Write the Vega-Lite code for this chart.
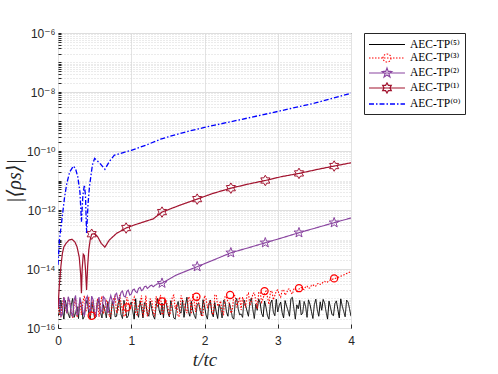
{
"$schema": "https://vega.github.io/schema/vega-lite/v6.json",
"width": 293, "height": 295,
"autosize": "none",
"padding": {"left": 58, "top": 33, "right": 147, "bottom": 46},
"background": "white",
"config": {
  "view": {"stroke": "#262626", "strokeWidth": 1},
  "axis": {"labelFont": "Liberation Sans, DejaVu Sans", "labelFontSize": 12, "labelColor": "#262626", "domain": false, "tickColor": "#262626", "titleColor": "#262626", "titleFontWeight": "normal"},
  "legend": {"orient": "none", "legendX": 306, "legendY": 0, "strokeColor": "#262626", "fillColor": "white", "padding": 4, "labelFont": "Liberation Serif, DejaVu Serif", "labelFontSize": 11.5, "labelColor": "#000", "symbolSize": 196, "symbolStrokeWidth": 1.2, "rowPadding": 0, "labelOffset": 26, "labelLimit": 200}
},
"datasets": {
"lines": [
{"s":"TP5","t":0,"v":2.5e-16},{"s":"TP5","t":0.04,"v":7.9e-16},{"s":"TP5","t":0.08,"v":2.0e-16},{"s":"TP5","t":0.12,"v":5.0e-16},{"s":"TP5","t":0.16,"v":2.2e-16},{"s":"TP5","t":0.2,"v":1.0e-15},{"s":"TP5","t":0.24,"v":3.2e-16},{"s":"TP5","t":0.28,"v":2.1e-16},{"s":"TP5","t":0.32,"v":6.3e-16},{"s":"TP5","t":0.36,"v":2.5e-16},
{"s":"TP5","t":0.4,"v":8.9e-16},{"s":"TP5","t":0.44,"v":2.0e-16},{"s":"TP5","t":0.48,"v":4.5e-16},{"s":"TP5","t":0.52,"v":2.4e-16},{"s":"TP5","t":0.56,"v":7.1e-16},{"s":"TP5","t":0.6,"v":2.2e-16},{"s":"TP5","t":0.64,"v":4.0e-16},{"s":"TP5","t":0.68,"v":7.9e-16},{"s":"TP5","t":0.72,"v":2.0e-16},{"s":"TP5","t":0.76,"v":5.6e-16},
{"s":"TP5","t":0.8,"v":2.5e-16},{"s":"TP5","t":0.84,"v":9.5e-16},{"s":"TP5","t":0.88,"v":2.1e-16},{"s":"TP5","t":0.92,"v":5.0e-16},{"s":"TP5","t":0.96,"v":2.6e-16},{"s":"TP5","t":1.0,"v":7.6e-16},{"s":"TP5","t":1.04,"v":2.0e-16},{"s":"TP5","t":1.08,"v":3.5e-16},{"s":"TP5","t":1.12,"v":8.3e-16},{"s":"TP5","t":1.16,"v":2.2e-16},
{"s":"TP5","t":1.2,"v":6.3e-16},{"s":"TP5","t":1.24,"v":2.5e-16},{"s":"TP5","t":1.28,"v":4.5e-16},{"s":"TP5","t":1.32,"v":2.0e-16},{"s":"TP5","t":1.36,"v":1.0e-15},{"s":"TP5","t":1.4,"v":2.8e-16},{"s":"TP5","t":1.44,"v":2.2e-16},{"s":"TP5","t":1.48,"v":6.6e-16},{"s":"TP5","t":1.52,"v":2.4e-16},{"s":"TP5","t":1.56,"v":5.0e-16},
{"s":"TP5","t":1.6,"v":2.0e-16},{"s":"TP5","t":1.64,"v":7.9e-16},{"s":"TP5","t":1.68,"v":3.2e-16},{"s":"TP5","t":1.72,"v":2.3e-16},{"s":"TP5","t":1.76,"v":1.1e-15},{"s":"TP5","t":1.8,"v":2.5e-16},{"s":"TP5","t":1.84,"v":4.0e-16},{"s":"TP5","t":1.88,"v":2.1e-16},{"s":"TP5","t":1.92,"v":7.1e-16},{"s":"TP5","t":1.96,"v":2.6e-16},
{"s":"TP5","t":2.0,"v":5.6e-16},{"s":"TP5","t":2.04,"v":2.0e-16},{"s":"TP5","t":2.08,"v":8.9e-16},{"s":"TP5","t":2.12,"v":2.4e-16},{"s":"TP5","t":2.16,"v":3.5e-16},{"s":"TP5","t":2.2,"v":6.3e-16},{"s":"TP5","t":2.24,"v":2.2e-16},{"s":"TP5","t":2.28,"v":7.9e-16},{"s":"TP5","t":2.32,"v":2.5e-16},{"s":"TP5","t":2.36,"v":4.5e-16},
{"s":"TP5","t":2.4,"v":2.0e-16},{"s":"TP5","t":2.44,"v":1.0e-15},{"s":"TP5","t":2.48,"v":2.8e-16},{"s":"TP5","t":2.52,"v":2.3e-16},{"s":"TP5","t":2.56,"v":6.0e-16},{"s":"TP5","t":2.6,"v":2.5e-16},{"s":"TP5","t":2.64,"v":1.05e-15},{"s":"TP5","t":2.68,"v":2.1e-16},{"s":"TP5","t":2.72,"v":4.0e-16},{"s":"TP5","t":2.76,"v":7.1e-16},
{"s":"TP5","t":2.8,"v":2.4e-16},{"s":"TP5","t":2.84,"v":5.0e-16},{"s":"TP5","t":2.88,"v":2.0e-16},{"s":"TP5","t":2.92,"v":8.9e-16},{"s":"TP5","t":2.96,"v":2.6e-16},{"s":"TP5","t":3.0,"v":3.5e-16},{"s":"TP5","t":3.04,"v":7.6e-16},{"s":"TP5","t":3.08,"v":2.2e-16},{"s":"TP5","t":3.12,"v":5.6e-16},{"s":"TP5","t":3.16,"v":2.5e-16},
{"s":"TP5","t":3.2,"v":1.1e-15},{"s":"TP5","t":3.24,"v":2.0e-16},{"s":"TP5","t":3.28,"v":4.5e-16},{"s":"TP5","t":3.32,"v":2.8e-16},{"s":"TP5","t":3.36,"v":7.9e-16},{"s":"TP5","t":3.4,"v":2.3e-16},{"s":"TP5","t":3.44,"v":6.3e-16},{"s":"TP5","t":3.48,"v":2.1e-16},{"s":"TP5","t":3.52,"v":9.5e-16},{"s":"TP5","t":3.56,"v":2.5e-16},
{"s":"TP5","t":3.6,"v":4.0e-16},{"s":"TP5","t":3.64,"v":7.1e-16},{"s":"TP5","t":3.68,"v":2.0e-16},{"s":"TP5","t":3.72,"v":5.0e-16},{"s":"TP5","t":3.76,"v":2.6e-16},{"s":"TP5","t":3.8,"v":8.3e-16},{"s":"TP5","t":3.84,"v":2.2e-16},{"s":"TP5","t":3.88,"v":5.6e-16},{"s":"TP5","t":3.92,"v":2.4e-16},{"s":"TP5","t":3.96,"v":7.6e-16},{"s":"TP5","t":4.0,"v":2.5e-16},
{"s":"TP5","t":0.02,"v":3.6e-16},{"s":"TP5","t":0.06,"v":4.2e-16},{"s":"TP5","t":0.1,"v":8.5e-16},{"s":"TP5","t":0.14,"v":3.0e-16},{"s":"TP5","t":0.18,"v":6.0e-16},{"s":"TP5","t":0.22,"v":2.3e-16},{"s":"TP5","t":0.26,"v":5.3e-16},{"s":"TP5","t":0.3,"v":9.0e-16},{"s":"TP5","t":0.34,"v":2.0e-16},{"s":"TP5","t":0.38,"v":6.5e-16},
{"s":"TP5","t":0.42,"v":3.1e-16},{"s":"TP5","t":0.46,"v":7.4e-16},{"s":"TP5","t":0.5,"v":2.1e-16},{"s":"TP5","t":0.54,"v":9.3e-16},{"s":"TP5","t":0.58,"v":3.4e-16},{"s":"TP5","t":0.62,"v":6.2e-16},{"s":"TP5","t":0.66,"v":2.2e-16},{"s":"TP5","t":0.7,"v":4.3e-16},{"s":"TP5","t":0.74,"v":8.0e-16},{"s":"TP5","t":0.78,"v":2.4e-16},
{"s":"TP5","t":0.82,"v":6.7e-16},{"s":"TP5","t":0.86,"v":2.9e-16},{"s":"TP5","t":0.9,"v":8.6e-16},{"s":"TP5","t":0.94,"v":2.2e-16},{"s":"TP5","t":0.98,"v":5.9e-16},{"s":"TP5","t":1.02,"v":3.8e-16},{"s":"TP5","t":1.06,"v":9.8e-16},{"s":"TP5","t":1.1,"v":2.3e-16},{"s":"TP5","t":1.14,"v":4.8e-16},{"s":"TP5","t":1.18,"v":7.2e-16},
{"s":"TP5","t":1.22,"v":3.0e-16},{"s":"TP5","t":1.26,"v":8.1e-16},{"s":"TP5","t":1.3,"v":2.6e-16},{"s":"TP5","t":1.34,"v":5.5e-16},{"s":"TP5","t":1.38,"v":4.1e-16},{"s":"TP5","t":1.42,"v":7.0e-16},{"s":"TP5","t":1.46,"v":9.2e-16},{"s":"TP5","t":1.5,"v":3.3e-16},{"s":"TP5","t":1.54,"v":8.4e-16},{"s":"TP5","t":1.58,"v":2.2e-16},
{"s":"TP5","t":1.62,"v":5.2e-16},{"s":"TP5","t":1.66,"v":3.7e-16},{"s":"TP5","t":1.7,"v":8.8e-16},{"s":"TP5","t":1.74,"v":5.9e-16},{"s":"TP5","t":1.78,"v":3.6e-16},{"s":"TP5","t":1.82,"v":8.0e-16},{"s":"TP5","t":1.86,"v":2.7e-16},{"s":"TP5","t":1.9,"v":6.1e-16},{"s":"TP5","t":1.94,"v":3.9e-16},{"s":"TP5","t":1.98,"v":9.1e-16},
{"s":"TP5","t":2.02,"v":2.8e-16},{"s":"TP5","t":2.06,"v":6.6e-16},{"s":"TP5","t":2.1,"v":3.2e-16},{"s":"TP5","t":2.14,"v":7.3e-16},{"s":"TP5","t":2.18,"v":2.1e-16},{"s":"TP5","t":2.22,"v":4.6e-16},{"s":"TP5","t":2.26,"v":8.7e-16},{"s":"TP5","t":2.3,"v":3.5e-16},{"s":"TP5","t":2.34,"v":6.9e-16},{"s":"TP5","t":2.38,"v":2.3e-16},
{"s":"TP5","t":2.42,"v":7.8e-16},{"s":"TP5","t":2.46,"v":4.4e-16},{"s":"TP5","t":2.5,"v":3.0e-16},{"s":"TP5","t":2.54,"v":8.9e-16},{"s":"TP5","t":2.58,"v":3.8e-16},{"s":"TP5","t":2.62,"v":7.5e-16},{"s":"TP5","t":2.66,"v":4.2e-16},{"s":"TP5","t":2.7,"v":6.4e-16},{"s":"TP5","t":2.74,"v":9.6e-16},{"s":"TP5","t":2.78,"v":3.1e-16},
{"s":"TP5","t":2.82,"v":8.2e-16},{"s":"TP5","t":2.86,"v":2.6e-16},{"s":"TP5","t":2.9,"v":6.8e-16},{"s":"TP5","t":2.94,"v":3.4e-16},{"s":"TP5","t":2.98,"v":9.4e-16},{"s":"TP5","t":3.02,"v":5.8e-16},{"s":"TP5","t":3.06,"v":3.3e-16},{"s":"TP5","t":3.1,"v":8.5e-16},{"s":"TP5","t":3.14,"v":3.9e-16},{"s":"TP5","t":3.18,"v":9.9e-16},
{"s":"TP5","t":3.22,"v":4.7e-16},{"s":"TP5","t":3.26,"v":6.1e-16},{"s":"TP5","t":3.3,"v":8.6e-16},{"s":"TP5","t":3.34,"v":3.2e-16},{"s":"TP5","t":3.38,"v":5.4e-16},{"s":"TP5","t":3.42,"v":9.0e-16},{"s":"TP5","t":3.46,"v":3.6e-16},{"s":"TP5","t":3.5,"v":6.3e-16},{"s":"TP5","t":3.54,"v":4.1e-16},{"s":"TP5","t":3.58,"v":7.7e-16},
{"s":"TP5","t":3.62,"v":9.3e-16},{"s":"TP5","t":3.66,"v":3.5e-16},{"s":"TP5","t":3.7,"v":8.1e-16},{"s":"TP5","t":3.74,"v":2.9e-16},{"s":"TP5","t":3.78,"v":6.7e-16},{"s":"TP5","t":3.82,"v":4.3e-16},{"s":"TP5","t":3.86,"v":9.7e-16},{"s":"TP5","t":3.9,"v":3.7e-16},{"s":"TP5","t":3.94,"v":8.8e-16},{"s":"TP5","t":3.98,"v":4.5e-16},

{"s":"TP3","t":0,"v":6.3e-16},{"s":"TP3","t":0.04,"v":2.5e-16},{"s":"TP3","t":0.08,"v":1.12e-15},{"s":"TP3","t":0.12,"v":3.2e-16},{"s":"TP3","t":0.16,"v":7.9e-16},{"s":"TP3","t":0.2,"v":2.2e-16},{"s":"TP3","t":0.24,"v":1.0e-15},{"s":"TP3","t":0.28,"v":4.0e-16},{"s":"TP3","t":0.32,"v":2.8e-16},{"s":"TP3","t":0.36,"v":1.26e-15},
{"s":"TP3","t":0.4,"v":5.0e-16},{"s":"TP3","t":0.44,"v":2.5e-16},{"s":"TP3","t":0.48,"v":8.9e-16},{"s":"TP3","t":0.52,"v":3.5e-16},{"s":"TP3","t":0.56,"v":2.4e-16},{"s":"TP3","t":0.6,"v":1.2e-15},{"s":"TP3","t":0.64,"v":4.5e-16},{"s":"TP3","t":0.68,"v":7.1e-16},{"s":"TP3","t":0.72,"v":2.6e-16},{"s":"TP3","t":0.76,"v":1.0e-15},
{"s":"TP3","t":0.8,"v":3.2e-16},{"s":"TP3","t":0.84,"v":1.32e-15},{"s":"TP3","t":0.88,"v":4.0e-16},{"s":"TP3","t":0.92,"v":2.5e-16},{"s":"TP3","t":0.96,"v":7.9e-16},{"s":"TP3","t":1.0,"v":5.0e-16},{"s":"TP3","t":1.04,"v":1.12e-15},{"s":"TP3","t":1.08,"v":2.8e-16},{"s":"TP3","t":1.12,"v":6.3e-16},{"s":"TP3","t":1.16,"v":2.4e-16},
{"s":"TP3","t":1.2,"v":1.26e-15},{"s":"TP3","t":1.24,"v":3.5e-16},{"s":"TP3","t":1.28,"v":8.9e-16},{"s":"TP3","t":1.32,"v":2.5e-16},{"s":"TP3","t":1.36,"v":5.6e-16},{"s":"TP3","t":1.4,"v":1.32e-15},{"s":"TP3","t":1.44,"v":3.2e-16},{"s":"TP3","t":1.48,"v":7.9e-16},{"s":"TP3","t":1.52,"v":2.6e-16},{"s":"TP3","t":1.56,"v":1.12e-15},
{"s":"TP3","t":1.6,"v":4.5e-16},{"s":"TP3","t":1.64,"v":2.4e-16},{"s":"TP3","t":1.68,"v":1.26e-15},{"s":"TP3","t":1.72,"v":6.3e-16},{"s":"TP3","t":1.76,"v":3.2e-16},{"s":"TP3","t":1.8,"v":1.0e-15},{"s":"TP3","t":1.84,"v":1.41e-15},{"s":"TP3","t":1.88,"v":3.5e-16},{"s":"TP3","t":1.92,"v":7.1e-16},{"s":"TP3","t":1.96,"v":2.5e-16},
{"s":"TP3","t":2.0,"v":1.26e-15},{"s":"TP3","t":2.04,"v":5.0e-16},{"s":"TP3","t":2.08,"v":8.9e-16},{"s":"TP3","t":2.12,"v":2.8e-16},{"s":"TP3","t":2.16,"v":1.35e-15},{"s":"TP3","t":2.2,"v":6.3e-16},{"s":"TP3","t":2.24,"v":3.5e-16},{"s":"TP3","t":2.28,"v":1.2e-15},{"s":"TP3","t":2.32,"v":7.9e-16},{"s":"TP3","t":2.36,"v":3.2e-16},
{"s":"TP3","t":2.4,"v":1.32e-15},{"s":"TP3","t":2.44,"v":5.0e-16},{"s":"TP3","t":2.48,"v":1.12e-15},
{"s":"TP3","t":2.52,"v":1.12e-15},{"s":"TP3","t":2.56,"v":5.0e-16},{"s":"TP3","t":2.6,"v":1.51e-15},{"s":"TP3","t":2.64,"v":7.9e-16},{"s":"TP3","t":2.68,"v":1.58e-15},{"s":"TP3","t":2.72,"v":4.5e-16},{"s":"TP3","t":2.76,"v":1.66e-15},{"s":"TP3","t":2.8,"v":1.0e-15},{"s":"TP3","t":2.84,"v":1.78e-15},{"s":"TP3","t":2.88,"v":6.3e-16},
{"s":"TP3","t":2.92,"v":1.82e-15},{"s":"TP3","t":2.96,"v":1.26e-15},{"s":"TP3","t":3.0,"v":1.95e-15},{"s":"TP3","t":3.04,"v":1.12e-15},{"s":"TP3","t":3.08,"v":2.0e-15},{"s":"TP3","t":3.12,"v":1.51e-15},{"s":"TP3","t":3.16,"v":2.14e-15},{"s":"TP3","t":3.2,"v":1.41e-15},{"s":"TP3","t":3.24,"v":2.24e-15},{"s":"TP3","t":3.28,"v":1.91e-15},
{"s":"TP3","t":3.32,"v":2.4e-15},{"s":"TP3","t":3.36,"v":2.0e-15},{"s":"TP3","t":3.4,"v":2.63e-15},{"s":"TP3","t":3.44,"v":2.29e-15},{"s":"TP3","t":3.48,"v":2.95e-15},{"s":"TP3","t":3.52,"v":2.63e-15},{"s":"TP3","t":3.56,"v":3.31e-15},{"s":"TP3","t":3.6,"v":3.16e-15},{"s":"TP3","t":3.64,"v":3.8e-15},{"s":"TP3","t":3.68,"v":3.63e-15},
{"s":"TP3","t":3.72,"v":4.27e-15},{"s":"TP3","t":3.76,"v":4.68e-15},{"s":"TP3","t":3.8,"v":5.0e-15},{"s":"TP3","t":3.84,"v":5.37e-15},{"s":"TP3","t":3.88,"v":6.03e-15},{"s":"TP3","t":3.92,"v":6.61e-15},{"s":"TP3","t":3.96,"v":7.41e-15},{"s":"TP3","t":4.0,"v":8.13e-15},
{"s":"TP3","t":0.02,"v":3.0e-16},{"s":"TP3","t":0.06,"v":6.8e-16},{"s":"TP3","t":0.1,"v":4.8e-16},{"s":"TP3","t":0.14,"v":1.05e-15},{"s":"TP3","t":0.18,"v":3.4e-16},{"s":"TP3","t":0.22,"v":6.0e-16},{"s":"TP3","t":0.26,"v":2.3e-16},{"s":"TP3","t":0.3,"v":9.3e-16},{"s":"TP3","t":0.34,"v":7.5e-16},{"s":"TP3","t":0.38,"v":3.6e-16},
{"s":"TP3","t":0.42,"v":1.15e-15},{"s":"TP3","t":0.46,"v":4.2e-16},{"s":"TP3","t":0.5,"v":2.7e-16},{"s":"TP3","t":0.54,"v":1.0e-15},{"s":"TP3","t":0.58,"v":6.6e-16},{"s":"TP3","t":0.62,"v":3.0e-16},{"s":"TP3","t":0.66,"v":8.4e-16},{"s":"TP3","t":0.7,"v":2.4e-16},{"s":"TP3","t":0.74,"v":5.8e-16},{"s":"TP3","t":0.78,"v":1.2e-15},
{"s":"TP3","t":0.82,"v":3.8e-16},{"s":"TP3","t":0.86,"v":7.2e-16},{"s":"TP3","t":0.9,"v":2.6e-16},{"s":"TP3","t":0.94,"v":1.1e-15},{"s":"TP3","t":0.98,"v":4.6e-16},{"s":"TP3","t":1.02,"v":8.8e-16},{"s":"TP3","t":1.06,"v":3.1e-16},{"s":"TP3","t":1.1,"v":6.2e-16},{"s":"TP3","t":1.14,"v":1.25e-15},{"s":"TP3","t":1.18,"v":4.0e-16},
{"s":"TP3","t":1.22,"v":2.5e-16},{"s":"TP3","t":1.26,"v":9.6e-16},{"s":"TP3","t":1.3,"v":3.3e-16},{"s":"TP3","t":1.34,"v":1.18e-15},{"s":"TP3","t":1.38,"v":7.0e-16},{"s":"TP3","t":1.42,"v":2.8e-16},{"s":"TP3","t":1.46,"v":1.0e-15},{"s":"TP3","t":1.5,"v":5.2e-16},{"s":"TP3","t":1.54,"v":3.6e-16},{"s":"TP3","t":1.58,"v":1.3e-15},
{"s":"TP3","t":1.62,"v":6.4e-16},{"s":"TP3","t":1.66,"v":2.6e-16},{"s":"TP3","t":1.7,"v":9.0e-16},{"s":"TP3","t":1.74,"v":4.4e-16},{"s":"TP3","t":1.78,"v":1.15e-15},{"s":"TP3","t":1.82,"v":3.0e-16},{"s":"TP3","t":1.86,"v":7.6e-16},{"s":"TP3","t":1.9,"v":1.22e-15},{"s":"TP3","t":1.94,"v":4.9e-16},{"s":"TP3","t":1.98,"v":2.7e-16},
{"s":"TP3","t":2.02,"v":1.05e-15},{"s":"TP3","t":2.06,"v":6.0e-16},{"s":"TP3","t":2.1,"v":3.4e-16},{"s":"TP3","t":2.14,"v":1.28e-15},{"s":"TP3","t":2.18,"v":5.5e-16},{"s":"TP3","t":2.22,"v":8.3e-16},{"s":"TP3","t":2.26,"v":2.9e-16},{"s":"TP3","t":2.3,"v":1.1e-15},{"s":"TP3","t":2.34,"v":6.8e-16},{"s":"TP3","t":2.38,"v":3.8e-16},
{"s":"TP3","t":2.42,"v":1.2e-15},{"s":"TP3","t":2.46,"v":7.3e-16},{"s":"TP3","t":2.5,"v":4.1e-16},
{"s":"TP3","t":2.54,"v":7.0e-16},{"s":"TP3","t":2.58,"v":1.3e-15},{"s":"TP3","t":2.62,"v":6.0e-16},{"s":"TP3","t":2.66,"v":1.45e-15},{"s":"TP3","t":2.7,"v":8.5e-16},{"s":"TP3","t":2.74,"v":1.6e-15},{"s":"TP3","t":2.78,"v":7.5e-16},{"s":"TP3","t":2.82,"v":1.5e-15},{"s":"TP3","t":2.86,"v":1.1e-15},{"s":"TP3","t":2.9,"v":1.7e-15},
{"s":"TP3","t":2.94,"v":9.0e-16},{"s":"TP3","t":2.98,"v":1.8e-15},{"s":"TP3","t":3.02,"v":1.35e-15},{"s":"TP3","t":3.06,"v":1.9e-15},{"s":"TP3","t":3.1,"v":1.3e-15},{"s":"TP3","t":3.14,"v":2.05e-15},{"s":"TP3","t":3.18,"v":1.6e-15},{"s":"TP3","t":3.22,"v":2.1e-15},{"s":"TP3","t":3.26,"v":1.75e-15},{"s":"TP3","t":3.3,"v":2.3e-15},
{"s":"TP3","t":3.34,"v":2.1e-15},{"s":"TP3","t":3.38,"v":2.5e-15},{"s":"TP3","t":3.42,"v":2.2e-15},{"s":"TP3","t":3.46,"v":2.8e-15},{"s":"TP3","t":3.5,"v":2.6e-15},{"s":"TP3","t":3.54,"v":3.1e-15},{"s":"TP3","t":3.58,"v":3.0e-15},{"s":"TP3","t":3.62,"v":3.6e-15},{"s":"TP3","t":3.66,"v":3.5e-15},{"s":"TP3","t":3.7,"v":4.1e-15},
{"s":"TP3","t":3.74,"v":4.4e-15},{"s":"TP3","t":3.78,"v":4.8e-15},{"s":"TP3","t":3.82,"v":5.2e-15},{"s":"TP3","t":3.86,"v":5.7e-15},{"s":"TP3","t":3.9,"v":6.3e-15},{"s":"TP3","t":3.94,"v":7.0e-15},{"s":"TP3","t":3.98,"v":7.8e-15},

{"s":"TP2","t":0,"v":5.0e-16},{"s":"TP2","t":0.04,"v":2.5e-16},{"s":"TP2","t":0.08,"v":1.12e-15},{"s":"TP2","t":0.12,"v":3.2e-16},{"s":"TP2","t":0.16,"v":7.9e-16},{"s":"TP2","t":0.2,"v":2.4e-16},{"s":"TP2","t":0.24,"v":1.26e-15},{"s":"TP2","t":0.28,"v":3.5e-16},{"s":"TP2","t":0.32,"v":6.3e-16},{"s":"TP2","t":0.36,"v":2.5e-16},
{"s":"TP2","t":0.4,"v":1.2e-15},{"s":"TP2","t":0.44,"v":3.2e-16},{"s":"TP2","t":0.48,"v":8.9e-16},{"s":"TP2","t":0.52,"v":2.6e-16},{"s":"TP2","t":0.56,"v":1.12e-15},{"s":"TP2","t":0.6,"v":4.0e-16},{"s":"TP2","t":0.64,"v":1.0e-15},{"s":"TP2","t":0.68,"v":3.2e-16},{"s":"TP2","t":0.72,"v":1.26e-15},{"s":"TP2","t":0.76,"v":6.3e-16},
{"s":"TP2","t":0.8,"v":1.51e-15},{"s":"TP2","t":0.84,"v":1.0e-15},{"s":"TP2","t":0.88,"v":1.78e-15},{"s":"TP2","t":0.92,"v":1.12e-15},{"s":"TP2","t":0.96,"v":1.91e-15},{"s":"TP2","t":1.0,"v":1.41e-15},{"s":"TP2","t":1.04,"v":2.09e-15},{"s":"TP2","t":1.08,"v":1.58e-15},{"s":"TP2","t":1.12,"v":2.4e-15},{"s":"TP2","t":1.16,"v":2.0e-15},
{"s":"TP2","t":1.2,"v":2.63e-15},{"s":"TP2","t":1.24,"v":2.4e-15},{"s":"TP2","t":1.28,"v":2.82e-15},{"s":"TP2","t":1.32,"v":2.75e-15},{"s":"TP2","t":1.36,"v":3.16e-15},{"s":"TP2","t":1.42,"v":3.31e-15},{"s":"TP2","t":1.62,"v":6.31e-15},{"s":"TP2","t":1.9,"v":1.2e-14},{"s":"TP2","t":2.1,"v":1.91e-14},{"s":"TP2","t":2.36,"v":3.55e-14},
{"s":"TP2","t":2.6,"v":5.25e-14},{"s":"TP2","t":2.83,"v":7.76e-14},{"s":"TP2","t":3.05,"v":1.12e-13},{"s":"TP2","t":3.29,"v":1.7e-13},{"s":"TP2","t":3.53,"v":2.51e-13},{"s":"TP2","t":3.77,"v":3.72e-13},{"s":"TP2","t":4.0,"v":5.37e-13},
{"s":"TP2","t":0.02,"v":1.0e-15},{"s":"TP2","t":0.06,"v":3.0e-16},{"s":"TP2","t":0.1,"v":6.8e-16},{"s":"TP2","t":0.14,"v":1.15e-15},{"s":"TP2","t":0.18,"v":3.4e-16},{"s":"TP2","t":0.22,"v":8.9e-16},{"s":"TP2","t":0.26,"v":2.7e-16},{"s":"TP2","t":0.3,"v":1.1e-15},{"s":"TP2","t":0.34,"v":3.6e-16},{"s":"TP2","t":0.38,"v":9.5e-16},
{"s":"TP2","t":0.42,"v":4.4e-16},{"s":"TP2","t":0.46,"v":1.2e-15},{"s":"TP2","t":0.5,"v":3.0e-16},{"s":"TP2","t":0.54,"v":7.4e-16},{"s":"TP2","t":0.58,"v":3.3e-16},{"s":"TP2","t":0.62,"v":1.15e-15},{"s":"TP2","t":0.66,"v":5.0e-16},{"s":"TP2","t":0.7,"v":8.0e-16},
{"s":"TP2","t":0.74,"v":8.5e-16},{"s":"TP2","t":0.78,"v":1.35e-15},{"s":"TP2","t":0.82,"v":9.0e-16},{"s":"TP2","t":0.86,"v":1.6e-15},{"s":"TP2","t":0.9,"v":1.2e-15},{"s":"TP2","t":0.94,"v":1.75e-15},{"s":"TP2","t":0.98,"v":1.3e-15},{"s":"TP2","t":1.02,"v":1.95e-15},{"s":"TP2","t":1.06,"v":1.7e-15},{"s":"TP2","t":1.1,"v":2.2e-15},
{"s":"TP2","t":1.14,"v":1.85e-15},{"s":"TP2","t":1.18,"v":2.5e-15},{"s":"TP2","t":1.22,"v":2.2e-15},{"s":"TP2","t":1.26,"v":2.7e-15},{"s":"TP2","t":1.3,"v":2.5e-15},{"s":"TP2","t":1.34,"v":2.95e-15},

{"s":"TP1","t":0,"v":5.0e-16},{"s":"TP1","t":0.02,"v":3.16e-15},{"s":"TP1","t":0.04,"v":1.26e-14},{"s":"TP1","t":0.06,"v":3.39e-14},{"s":"TP1","t":0.08,"v":5.62e-14},{"s":"TP1","t":0.11,"v":7.41e-14},{"s":"TP1","t":0.15,"v":9.55e-14},{"s":"TP1","t":0.19,"v":1.02e-13},{"s":"TP1","t":0.23,"v":8.32e-14},{"s":"TP1","t":0.26,"v":5.62e-14},
{"s":"TP1","t":0.29,"v":2.51e-14},{"s":"TP1","t":0.31,"v":6.31e-15},{"s":"TP1","t":0.32,"v":1.51e-15},{"s":"TP1","t":0.33,"v":1.0e-14},{"s":"TP1","t":0.345,"v":3.16e-14},{"s":"TP1","t":0.36,"v":2.82e-14},{"s":"TP1","t":0.375,"v":1.0e-14},{"s":"TP1","t":0.39,"v":1.95e-15},{"s":"TP1","t":0.405,"v":1.26e-14},{"s":"TP1","t":0.42,"v":4.37e-14},
{"s":"TP1","t":0.44,"v":1.0e-13},{"s":"TP1","t":0.46,"v":1.51e-13},{"s":"TP1","t":0.5,"v":1.58e-13},{"s":"TP1","t":0.54,"v":1.26e-13},{"s":"TP1","t":0.59,"v":7.41e-14},{"s":"TP1","t":0.64,"v":5.5e-14},{"s":"TP1","t":0.7,"v":9.55e-14},{"s":"TP1","t":0.8,"v":1.62e-13},{"s":"TP1","t":0.93,"v":2.45e-13},{"s":"TP1","t":1.05,"v":3.16e-13},
{"s":"TP1","t":1.2,"v":4.17e-13},{"s":"TP1","t":1.3,"v":5.01e-13},{"s":"TP1","t":1.42,"v":8.5e-13},{"s":"TP1","t":1.65,"v":1.41e-12},{"s":"TP1","t":1.9,"v":2.34e-12},{"s":"TP1","t":2.1,"v":3.55e-12},{"s":"TP1","t":2.36,"v":5.5e-12},{"s":"TP1","t":2.6,"v":7.59e-12},{"s":"TP1","t":2.83,"v":1.0e-11},{"s":"TP1","t":3.05,"v":1.35e-11},
{"s":"TP1","t":3.29,"v":1.74e-11},{"s":"TP1","t":3.55,"v":2.4e-11},{"s":"TP1","t":3.77,"v":3.09e-11},{"s":"TP1","t":4.0,"v":3.98e-11},

{"s":"TP0","t":0,"v":1.38e-14},{"s":"TP0","t":0.02,"v":1.0e-13},{"s":"TP0","t":0.05,"v":3.98e-13},{"s":"TP0","t":0.09,"v":2.75e-12},{"s":"TP0","t":0.12,"v":7.94e-12},{"s":"TP0","t":0.16,"v":1.95e-11},{"s":"TP0","t":0.21,"v":3.09e-11},{"s":"TP0","t":0.24,"v":2.51e-11},{"s":"TP0","t":0.27,"v":1.32e-11},{"s":"TP0","t":0.3,"v":3.98e-12},
{"s":"TP0","t":0.32,"v":3.98e-13},{"s":"TP0","t":0.34,"v":3.16e-12},{"s":"TP0","t":0.36,"v":7.08e-12},{"s":"TP0","t":0.375,"v":3.16e-12},{"s":"TP0","t":0.39,"v":1.66e-13},{"s":"TP0","t":0.41,"v":1.58e-12},{"s":"TP0","t":0.43,"v":6.31e-12},{"s":"TP0","t":0.47,"v":3.39e-11},{"s":"TP0","t":0.5,"v":5.62e-11},{"s":"TP0","t":0.57,"v":3.89e-11},
{"s":"TP0","t":0.64,"v":2.4e-11},{"s":"TP0","t":0.7,"v":4.37e-11},{"s":"TP0","t":0.77,"v":7.24e-11},{"s":"TP0","t":0.88,"v":8.71e-11},{"s":"TP0","t":1.0,"v":1.05e-10},{"s":"TP0","t":1.2,"v":1.58e-10},{"s":"TP0","t":1.4,"v":2.51e-10},{"s":"TP0","t":1.6,"v":3.55e-10},{"s":"TP0","t":1.8,"v":4.79e-10},{"s":"TP0","t":2.0,"v":6.31e-10},
{"s":"TP0","t":2.5,"v":1.17e-9},{"s":"TP0","t":3.0,"v":2.19e-9},{"s":"TP0","t":3.5,"v":4.17e-9},{"s":"TP0","t":4.0,"v":9.12e-9}
],
"marks": [
{"s":"TP3","t":0.46,"v":2.6e-16},{"s":"TP3","t":0.94,"v":5.0e-16},{"s":"TP3","t":1.42,"v":8.0e-16},{"s":"TP3","t":1.89,"v":1.15e-15},{"s":"TP3","t":2.35,"v":1.32e-15},{"s":"TP3","t":2.82,"v":1.78e-15},{"s":"TP3","t":3.29,"v":2.24e-15},{"s":"TP3","t":3.77,"v":4.8e-15},
{"s":"TP2","t":1.42,"v":3.31e-15},{"s":"TP2","t":1.9,"v":1.2e-14},{"s":"TP2","t":2.36,"v":3.55e-14},{"s":"TP2","t":2.83,"v":7.76e-14},{"s":"TP2","t":3.29,"v":1.7e-13},{"s":"TP2","t":3.77,"v":3.72e-13},
{"s":"TP1","t":0.46,"v":1.51e-13},{"s":"TP1","t":0.93,"v":2.45e-13},{"s":"TP1","t":1.42,"v":8.5e-13},{"s":"TP1","t":1.9,"v":2.34e-12},{"s":"TP1","t":2.36,"v":5.5e-12},{"s":"TP1","t":2.83,"v":1.0e-11},{"s":"TP1","t":3.29,"v":1.74e-11},{"s":"TP1","t":3.77,"v":3.09e-11}
]
},
"encoding": {
  "x": {"field": "t", "type": "quantitative", "scale": {"domain": [0, 4], "nice": false, "zero": false},
    "axis": {"values": [0, 1, 2, 3, 4], "format": "d", "title": "t/tc", "titleFont": "Liberation Serif, DejaVu Serif", "titleFontStyle": "italic", "titleFontSize": 19, "titlePadding": 4, "grid": true, "gridColor": "#e3e3e3", "tickSize": -4, "labelPadding": 11, "labelFlush": false}},
  "y": {"field": "v", "type": "quantitative", "scale": {"type": "log", "domain": [1e-16, 1e-6], "nice": false},
    "axis": {"values": [1e-16,2e-16,3e-16,4e-16,5e-16,6e-16,7e-16,8e-16,9e-16,1e-15,2e-15,3e-15,4e-15,5e-15,6e-15,7e-15,8e-15,9e-15,1e-14,2e-14,3e-14,4e-14,5e-14,6e-14,7e-14,8e-14,9e-14,1e-13,2e-13,3e-13,4e-13,5e-13,6e-13,7e-13,8e-13,9e-13,1e-12,2e-12,3e-12,4e-12,5e-12,6e-12,7e-12,8e-12,9e-12,1e-11,2e-11,3e-11,4e-11,5e-11,6e-11,7e-11,8e-11,9e-11,1e-10,2e-10,3e-10,4e-10,5e-10,6e-10,7e-10,8e-10,9e-10,1e-9,2e-9,3e-9,4e-9,5e-9,6e-9,7e-9,8e-9,9e-9,1e-8,2e-8,3e-8,4e-8,5e-8,6e-8,7e-8,8e-8,9e-8,1e-7,2e-7,3e-7,4e-7,5e-7,6e-7,7e-7,8e-7,9e-7,1e-6],
      "labelExpr": "datum.value===1e-6?'10⁻⁶':datum.value===1e-8?'10⁻⁸':datum.value===1e-10?'10⁻¹⁰':datum.value===1e-12?'10⁻¹²':datum.value===1e-14?'10⁻¹⁴':datum.value===1e-16?'10⁻¹⁶':''",
      "labelOverlap": false, "labelFlush": false, "labelFontSize": 12,
      "grid": true,
      "gridColor": {"condition": {"test": "datum.value===1e-6||datum.value===1e-8||datum.value===1e-10||datum.value===1e-12||datum.value===1e-14||datum.value===1e-16", "value": "#dedede"}, "value": "#d6d6d6"},
      "gridDash": {"condition": {"test": "datum.value===1e-6||datum.value===1e-8||datum.value===1e-10||datum.value===1e-12||datum.value===1e-14||datum.value===1e-16", "value": []}, "value": [1, 2]},
      "tickSize": -3, "labelPadding": 6,
      "title": "|⟨ρs⟩|", "titleFont": "Liberation Serif, DejaVu Serif", "titleFontStyle": "italic", "titleFontSize": 20, "titlePadding": 2}}
},
"layer": [
  {"data": {"name": "lines"},
   "mark": {"type": "line", "clip": true},
   "encoding": {
     "color": {"field": "s", "type": "nominal", "scale": {"domain": ["TP5","TP3","TP2","TP1","TP0"], "range": ["#000000","#ff0000","#8a45a0","#a2142f","#0000ff"]},
       "legend": {"title": null, "labelExpr": "datum.label==='TP5'?'AEC-TP⁽⁵⁾':datum.label==='TP3'?'AEC-TP⁽³⁾':datum.label==='TP2'?'AEC-TP⁽²⁾':datum.label==='TP1'?'AEC-TP⁽¹⁾':'AEC-TP⁽⁰⁾'"}},
     "strokeDash": {"field": "s", "type": "nominal", "scale": {"domain": ["TP5","TP3","TP2","TP1","TP0"], "range": [[1,0],[1.5,1.5],[1,0],[1,0],[5,2,1.5,2]]},
       "legend": {"title": null, "labelExpr": "datum.label==='TP5'?'AEC-TP⁽⁵⁾':datum.label==='TP3'?'AEC-TP⁽³⁾':datum.label==='TP2'?'AEC-TP⁽²⁾':datum.label==='TP1'?'AEC-TP⁽¹⁾':'AEC-TP⁽⁰⁾'"}},
     "strokeWidth": {"field": "s", "type": "nominal", "scale": {"domain": ["TP5","TP3","TP2","TP1","TP0"], "range": [1, 1.3, 1, 1, 1.7]}, "legend": null}
   }},
  {"data": {"name": "marks"}, "transform": [{"filter": "datum.s==='TP3'"}],
   "mark": {"type": "point", "shape": "circle", "size": 50, "filled": false, "color": "#ff0000", "strokeWidth": 1.3, "opacity": 1, "clip": true}},
  {"data": {"name": "marks"}, "transform": [{"filter": "datum.s==='TP2'"}],
   "mark": {"type": "point", "shape": "M0,-1L0.235,-0.324L0.951,-0.309L0.38,0.124L0.588,0.809L0,0.4L-0.588,0.809L-0.38,0.124L-0.951,-0.309L-0.235,-0.324Z", "size": 110, "filled": false, "color": "#8a45a0", "strokeWidth": 1, "opacity": 1, "clip": true}},
  {"data": {"name": "marks"}, "transform": [{"filter": "datum.s==='TP1'"}],
   "mark": {"type": "point", "shape": "M0,-1L0.289,-0.5L0.866,-0.5L0.577,0L0.866,0.5L0.289,0.5L0,1L-0.289,0.5L-0.866,0.5L-0.577,0L-0.866,-0.5L-0.289,-0.5Z", "size": 110, "filled": false, "color": "#a2142f", "strokeWidth": 1, "opacity": 1, "clip": true}},
  {"data": {"name": "lines"}, "transform": [{"filter": "false"}],
   "mark": {"type": "point", "filled": false, "opacity": 1},
   "encoding": {
     "color": {"field": "s", "type": "nominal", "scale": {"domain": ["TP5","TP3","TP2","TP1","TP0"], "range": ["#000000","#ff0000","#8a45a0","#a2142f","#0000ff"]},
       "legend": {"title": null, "labelExpr": "datum.label==='TP5'?'AEC-TP⁽⁵⁾':datum.label==='TP3'?'AEC-TP⁽³⁾':datum.label==='TP2'?'AEC-TP⁽²⁾':datum.label==='TP1'?'AEC-TP⁽¹⁾':'AEC-TP⁽⁰⁾'"}},
     "strokeDash": {"field": "s", "type": "nominal", "scale": {"domain": ["TP5","TP3","TP2","TP1","TP0"], "range": [[1,0],[1.5,1.5],[1,0],[1,0],[5,2,1.5,2]]},
       "legend": {"title": null, "labelExpr": "datum.label==='TP5'?'AEC-TP⁽⁵⁾':datum.label==='TP3'?'AEC-TP⁽³⁾':datum.label==='TP2'?'AEC-TP⁽²⁾':datum.label==='TP1'?'AEC-TP⁽¹⁾':'AEC-TP⁽⁰⁾'"}},
     "shape": {"field": "s", "type": "nominal", "scale": {"domain": ["TP5","TP3","TP2","TP1","TP0"], "range": [
        "M-1,0H4.14",
        "M-1,0H4.14M2.14,0A0.57,0.57 0 1 1 1,0A0.57,0.57 0 1 1 2.14,0",
        "M-1,0H4.14M1.57,-0.71L1.74,-0.23L2.25,-0.22L1.84,0.09L1.99,0.57L1.57,0.28L1.15,0.57L1.3,0.09L0.89,-0.22L1.4,-0.23Z",
        "M-1,0H4.14M1.57,-0.71L1.78,-0.36L2.18,-0.36L1.98,0L2.18,0.36L1.78,0.36L1.57,0.71L1.36,0.36L0.96,0.36L1.16,0L0.96,-0.36L1.36,-0.36Z",
        "M-1,0H4.14"]},
       "legend": {"title": null, "labelExpr": "datum.label==='TP5'?'AEC-TP⁽⁵⁾':datum.label==='TP3'?'AEC-TP⁽³⁾':datum.label==='TP2'?'AEC-TP⁽²⁾':datum.label==='TP1'?'AEC-TP⁽¹⁾':'AEC-TP⁽⁰⁾'"}}
   }}
]
}
